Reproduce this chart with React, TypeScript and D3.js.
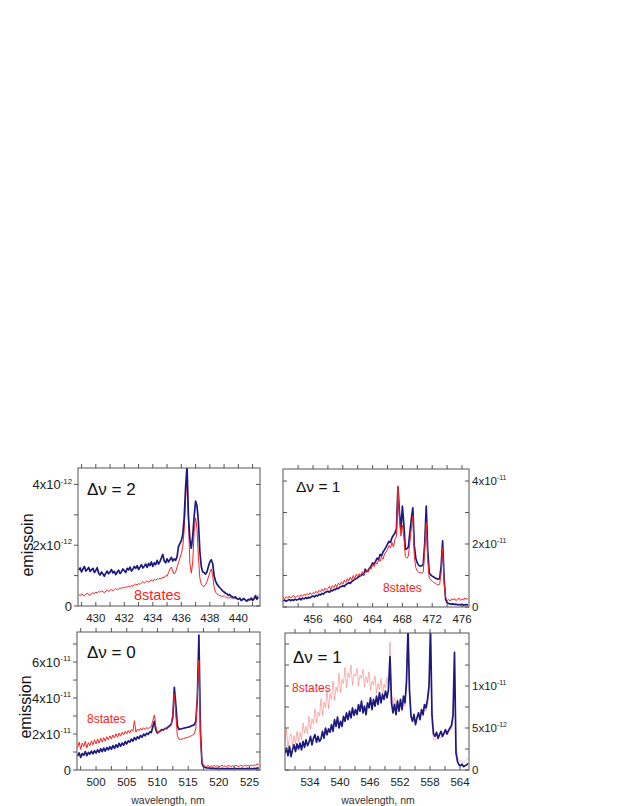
import React from "react";
import * as d3 from "d3";

// Spectra are sampled on a regular wavelength grid: [start nm, step nm].
// Blue = measured emission, red = "8states" model.

// Δν = 2 band, values in 1e-12
const dv2Grid = [428.8, 0.1];
const dv2Measured = [
  1.18, 1.25, 1.12, 1.22, 1.3, 1.15, 1.2, 1.27, 1.14, 1.19,
  1.24, 1.1, 1.17, 1.26, 1.08, 1.02, 1.12, 1.05, 0.98, 1.08,
  1.15, 1.06, 1.12, 1.2, 1.09, 1.14, 1.03, 1.11, 1.18, 1.07,
  1.13, 1.22, 1.16, 1.1, 1.24, 1.19, 1.28, 1.15, 1.21, 1.3,
  1.24, 1.33, 1.2, 1.28, 1.36, 1.25, 1.31, 1.38, 1.27, 1.4,
  1.33, 1.45, 1.3, 1.42, 1.36, 1.5, 1.38, 1.46, 1.58, 1.7,
  1.48, 1.42, 1.55, 1.45, 1.52, 1.6, 1.48, 1.55, 1.5, 1.62,
  1.95, 2.05, 2.15, 2.35, 2.9, 3.9, 4.6, 2.95, 2.2, 1.9,
  2.3, 2.95, 3.45, 3.3, 2.75, 1.8, 1.3, 1.12, 1.1, 1.05,
  1.12, 1.3, 1.45, 1.52, 1.4, 1.0, 0.82, 0.72, 0.66, 0.6,
  0.55, 0.5, 0.46, 0.42, 0.4, 0.35, 0.38, 0.32, 0.3, 0.27,
  0.3, 0.24, 0.22, 0.26, 0.18, 0.22, 0.25, 0.19, 0.16, 0.22,
  0.2, 0.26, 0.18, 0.24, 0.34, 0.22, 0.3,
];
const dv2Model = [
  0.38, 0.34, 0.4, 0.36, 0.33, 0.39, 0.42, 0.37, 0.35, 0.41,
  0.44, 0.4, 0.46, 0.43, 0.48, 0.45, 0.5, 0.47, 0.44, 0.49,
  0.52, 0.48, 0.51, 0.55, 0.5, 0.54, 0.58, 0.53, 0.56, 0.6,
  0.57, 0.62, 0.59, 0.64, 0.61, 0.66, 0.63, 0.68, 0.65, 0.7,
  0.72, 0.69, 0.74, 0.71, 0.76, 0.8, 0.75, 0.79, 0.83, 0.78,
  0.82, 0.86, 0.81, 0.88, 0.84, 0.9, 0.87, 0.92, 0.89, 0.95,
  0.93, 1.0, 0.98, 1.1, 1.22, 1.28, 1.15, 1.05, 1.12, 1.28,
  1.42, 1.58, 1.72, 1.95, 2.5, 3.5, 4.25, 2.8, 1.4, 1.08,
  1.45, 2.45, 2.9, 2.55, 1.6, 0.92, 0.72, 0.66, 0.64, 0.7,
  0.8, 0.95, 1.1, 1.22, 1.0, 0.62, 0.46, 0.4, 0.36, 0.34,
  0.33, 0.31, 0.34, 0.3, 0.28, 0.26, 0.29, 0.27, 0.25, 0.28,
  0.24, 0.26, 0.22, 0.25, 0.21, 0.19, 0.22, 0.2, 0.18, 0.21,
  0.19, 0.22, 0.24, 0.21, 0.26, 0.3, 0.36,
];
const dv2TicksNm = [430, 432, 434, 436, 438, 440];
const dv2TicksY = [0, 2, 4];
const dv2TickLabelsY = ["0", "2x10^-12", "4x10^-12"];

// Δν = 1 band (blue-green), values in 1e-11
const dv1aGrid = [452.0, 0.2];
const dv1aMeasured = [
  0.19, 0.22, 0.18, 0.21, 0.24, 0.2, 0.23, 0.21, 0.25, 0.22,
  0.24, 0.27, 0.23, 0.28, 0.26, 0.3, 0.27, 0.31, 0.29, 0.33,
  0.35, 0.32, 0.37, 0.35, 0.4, 0.38, 0.43, 0.41, 0.46, 0.48,
  0.5, 0.47, 0.53, 0.51, 0.56, 0.55, 0.6, 0.58, 0.63, 0.65,
  0.67, 0.65, 0.71, 0.74, 0.77, 0.75, 0.81, 0.84, 0.88, 0.9,
  0.93, 0.97, 1.0, 1.04, 1.02, 1.2, 1.12, 1.16, 1.24, 1.3,
  1.4, 1.36, 1.45, 1.55, 1.5, 1.67, 1.62, 1.75, 1.82, 1.9,
  2.0, 2.08, 2.05, 2.2, 2.28, 2.35, 2.48, 3.8, 3.0, 2.45,
  3.2, 2.6, 1.83, 1.85, 1.9, 2.36, 2.8, 3.15, 1.94, 1.55,
  1.4, 1.32, 1.3, 1.31, 1.35, 2.04, 3.2, 1.8, 1.09, 1.02,
  0.98, 0.95, 0.92, 0.9, 0.88, 0.9, 1.3, 2.1, 0.9, 0.24,
  0.14, 0.11, 0.1, 0.09, 0.1, 0.08, 0.09, 0.07, 0.08, 0.07,
  0.08, 0.06, 0.07, 0.08, 0.06,
];
const dv1aModel = [
  0.3, 0.26, 0.33, 0.28, 0.35, 0.29, 0.32, 0.37, 0.3, 0.34,
  0.36, 0.31, 0.39, 0.34, 0.41, 0.37, 0.43, 0.38, 0.45, 0.4,
  0.46, 0.42, 0.5, 0.44, 0.53, 0.48, 0.57, 0.5, 0.6, 0.54,
  0.58, 0.66, 0.56, 0.68, 0.62, 0.72, 0.64, 0.76, 0.7, 0.8,
  0.72, 0.85, 0.78, 0.9, 0.82, 0.95, 0.86, 1.0, 0.9, 1.04,
  0.96, 1.06, 0.98, 1.12, 1.02, 1.09, 1.18, 1.1, 1.25, 1.2,
  1.35, 1.28, 1.42, 1.36, 1.5, 1.45, 1.58, 1.52, 1.68, 1.75,
  1.83, 1.95, 1.88, 2.05, 1.9, 2.15, 2.25, 3.85, 2.8, 2.25,
  2.6, 2.2, 1.6, 1.55, 1.62, 2.05, 2.5, 2.9, 1.6, 1.25,
  1.14, 1.1, 1.09, 1.08, 1.12, 1.83, 2.68, 1.5, 0.93, 0.86,
  0.82, 0.78, 0.75, 0.72, 0.7, 0.72, 1.1, 1.88, 0.75, 0.3,
  0.2, 0.24, 0.19, 0.26, 0.22, 0.27, 0.2, 0.25, 0.28, 0.21,
  0.26, 0.22, 0.29, 0.24, 0.27,
];
const dv1aTicksNm = [456, 460, 464, 468, 472, 476];
const dv1aTicksY = [0, 2, 4];
const dv1aTickLabelsY = ["0", "2x10^-11", "4x10^-11"];

// Δν = 0 band, values in 1e-11
const dv0Grid = [497.0, 0.25];
const dv0Measured = [
  0.78, 0.95, 0.7, 0.92, 0.82, 1.02, 0.8, 0.98, 0.88, 1.05,
  0.9, 1.08, 0.94, 1.12, 0.98, 1.18, 1.02, 1.22, 1.05, 1.25,
  1.12, 1.3, 1.15, 1.36, 1.2, 1.4, 1.26, 1.48, 1.32, 1.5,
  1.38, 1.58, 1.45, 1.62, 1.55, 1.72, 1.6, 1.8, 1.68, 1.85,
  1.75, 1.92, 1.82, 2.0, 1.9, 2.05, 1.98, 2.12, 2.08, 2.4,
  2.7, 2.2, 2.05, 2.12, 2.18, 2.25, 2.22, 2.32, 2.3, 2.4,
  2.45, 2.55, 2.9, 4.6, 3.6, 2.45, 2.25, 2.28, 2.3, 2.32,
  2.34, 2.36, 2.38, 2.4, 2.45, 2.48, 2.52, 2.7, 4.0, 7.5,
  2.2, 0.36, 0.18, 0.14, 0.12, 0.11, 0.1, 0.09, 0.1, 0.09,
  0.08, 0.09, 0.08, 0.07, 0.09, 0.08, 0.07, 0.08, 0.09, 0.07,
  0.08, 0.07, 0.09, 0.08, 0.07, 0.08, 0.07, 0.09, 0.08, 0.07,
  0.08, 0.09, 0.07, 0.08, 0.07, 0.09, 0.08, 0.1, 0.12,
];
const dv0Model = [
  1.25, 1.55, 1.15, 1.5, 1.3, 1.6, 1.22, 1.52, 1.35, 1.62,
  1.4, 1.68, 1.45, 1.72, 1.5, 1.78, 1.55, 1.8, 1.6, 1.85,
  1.68, 1.9, 1.72, 1.95, 1.78, 2.02, 1.82, 2.05, 1.88, 2.1,
  1.95, 2.15, 2.0, 2.2, 2.05, 2.25, 2.15, 2.74, 2.1, 2.28,
  2.18, 2.32, 2.22, 2.35, 2.25, 2.36, 2.3, 2.38, 2.4, 2.75,
  3.06, 2.4, 2.07, 2.12, 2.15, 2.2, 2.22, 2.28, 2.3, 2.35,
  2.4, 2.5, 3.2, 4.23, 3.0, 1.9, 1.72, 1.7, 1.72, 1.75,
  1.78, 1.8, 1.82, 1.86, 1.9, 1.95, 2.0, 2.3, 4.2, 6.1,
  1.8, 0.45, 0.27, 0.22, 0.2, 0.24, 0.19, 0.23, 0.21, 0.25,
  0.2, 0.24, 0.19, 0.22, 0.26, 0.21, 0.23, 0.19, 0.25, 0.22,
  0.2, 0.24, 0.21, 0.26, 0.22, 0.19, 0.25, 0.23, 0.21, 0.26,
  0.22, 0.25, 0.21, 0.27, 0.24, 0.28, 0.26, 0.34, 0.3,
];
const dv0TicksNm = [500, 505, 510, 515, 520, 525];
const dv0TicksY = [0, 2, 4, 6];
const dv0TickLabelsY = ["0", "2x10^-11", "4x10^-11", "6x10^-11"];

// Δν = 1 band (green-yellow), values in 1e-12
const dv1bGrid = [529.0, 0.3];
const dv1bMeasured = [
  2.0, 2.6, 1.7, 2.8, 1.6, 2.4, 3.0, 2.2, 3.1, 2.5,
  3.2, 2.4, 3.4, 2.7, 3.6, 2.9, 3.3, 4.0, 3.0, 3.8,
  4.2, 3.3, 4.0, 3.4, 3.7, 4.6, 3.8, 5.0, 4.2, 4.9,
  4.5, 5.4, 4.6, 6.0, 5.2, 6.3, 5.0, 5.8, 5.2, 6.4,
  5.8, 6.8, 6.0, 7.0, 6.2, 7.4, 6.5, 7.2, 6.6, 7.8,
  7.0, 8.2, 6.8, 7.6, 6.6, 8.0, 7.4, 8.6, 7.2, 8.4,
  7.6, 8.8, 7.8, 9.2, 8.0, 9.0, 8.4, 9.4, 8.6, 9.6,
  13.5, 8.0, 6.8, 7.8, 6.6, 8.2, 7.0, 8.4, 7.2, 8.8,
  8.0, 10.5, 16.8, 9.5, 6.4, 5.8, 6.6, 5.4, 6.2, 6.8,
  6.0, 7.2, 6.6, 7.8, 7.4, 8.4, 10.0, 16.8, 6.5, 4.3,
  4.0, 4.5, 3.8, 4.2, 4.6, 4.0, 4.4, 4.8, 4.3, 4.7,
  5.0, 5.3, 6.5, 14.0, 2.0, 1.0, 0.6, 0.5, 0.7, 0.4,
  0.5, 0.6, 0.8,
];
const dv1bModel = [
  3.4, 4.9, 2.7, 3.9, 4.3, 2.9, 4.1, 3.1, 4.6, 3.3,
  4.5, 3.6, 5.6, 4.4, 5.2, 4.3, 6.4, 4.9, 6.1, 5.5,
  7.3, 5.6, 6.9, 6.4, 8.5, 6.5, 8.1, 7.4, 9.5, 7.3,
  9.1, 8.4, 10.6, 8.3, 9.9, 9.3, 11.5, 9.2, 10.8, 10.3,
  12.2, 9.8, 11.6, 11.0, 12.5, 10.1, 11.4, 11.2, 12.1, 10.0,
  11.3, 10.9, 12.0, 9.9, 11.1, 10.4, 11.7, 9.5, 10.6, 10.1,
  11.2, 9.1, 10.3, 9.6, 10.9, 8.8, 10.2, 9.7, 11.0, 9.5,
  15.2, 9.0, 7.8, 8.6, 7.4, 8.4, 7.2, 8.2, 7.0, 8.0,
  7.6, 11.0, 16.5, 9.0, 6.6, 6.0, 6.8, 5.8, 6.4, 6.9,
  6.2, 7.0, 6.4, 7.4, 7.0, 7.8, 9.0, 16.0, 5.5, 3.6,
  3.5, 3.8, 3.6, 4.0, 3.8, 4.1, 4.2, 4.4, 4.2, 4.5,
  4.6, 4.8, 6.0, 12.7, 3.0, 1.6, 1.2, 1.0, 1.1, 0.9,
  1.0, 1.2, 1.4,
];
const dv1bTicksNm = [534, 540, 546, 552, 558, 564];
const dv1bTicksY = [0, 5, 10];
const dv1bTickLabelsY = ["0", "5x10^-12", "1x10^-11"];

const FONT = "'Liberation Sans', Arial, Helvetica, sans-serif";
const BLUE = "#1c1a7e";
const RED = "#ff2222";
const AXIS = "#555";

type Series = { values: number[]; color: string; width: number; opacity?: number };
type PanelCfg = {
  id: string;
  left: number; right: number; top: number; bottom: number;
  xDomain: [number, number];
  yMax: number;
  grid: number[];
  series: Series[];
  xTicks: number[];
  xMinorStart: number; xMinorStep: number;
  yTicks: number[]; yLabels: string[]; yMinorStep: number;
  ySide: "left" | "right";
  title: string; titleSize: number; titleDx: number; titleDy: number;
  tag: string; tagSize: number; tagDx: number; tagDy: number;
};

const SupLabel = ({ x, y, text, anchor, size }: { x: number; y: number; text: string; anchor: string; size: number }) => {
  const [base, exp] = text.split("^");
  return (
    <text x={x} y={y + size * 0.36} textAnchor={anchor} fontSize={size} fill="#222" fontFamily={FONT}>
      {base}
      {exp && (
        <tspan dy={-size * 0.42} fontSize={size * 0.6}>
          {exp}
        </tspan>
      )}
    </text>
  );
};

const Panel = ({ p }: { p: PanelCfg }) => {
  const x = d3.scaleLinear().domain(p.xDomain).range([p.left, p.right]);
  const y = d3.scaleLinear().domain([0, p.yMax]).range([p.bottom, p.top]);
  const line = d3
    .line<number>()
    .x((_, i) => x(p.grid[0] + i * p.grid[1]))
    .y((d) => y(d));
  const clipId = "clip-" + p.id;
  const tl = 4;
  const xMinor = d3.range(p.xMinorStart, p.xDomain[1], p.xMinorStep);
  const yMinor = d3.range(0, p.yMax, p.yMinorStep);

  return (
    <g>
      <defs>
        <clipPath id={clipId}>
          <rect x={p.left} y={p.top} width={p.right - p.left} height={p.bottom - p.top} />
        </clipPath>
      </defs>
      <g clipPath={`url(#${clipId})`}>
        {p.series.map((s, i) => (
          <path
            key={i}
            d={line(s.values) || ""}
            fill="none"
            stroke={s.color}
            strokeWidth={s.width}
            strokeOpacity={s.opacity ?? 1}
            strokeLinejoin="round"
          />
        ))}
      </g>
      <rect
        x={p.left}
        y={p.top}
        width={p.right - p.left}
        height={p.bottom - p.top}
        fill="none"
        stroke={AXIS}
        strokeWidth={1}
      />
      {/* x ticks: bottom inward, top outward */}
      {xMinor.map((v) => (
        <g key={"x" + v}>
          <line x1={x(v)} x2={x(v)} y1={p.bottom} y2={p.bottom - tl} stroke={AXIS} />
          <line x1={x(v)} x2={x(v)} y1={p.top} y2={p.top - tl} stroke={AXIS} />
        </g>
      ))}
      {p.xTicks.map((v) => (
        <text
          key={"xl" + v}
          x={x(v)}
          y={p.bottom + 16}
          textAnchor="middle"
          fontSize={11.5}
          fill="#222"
          fontFamily={FONT}
        >
          {v}
        </text>
      ))}
      {/* y ticks */}
      {yMinor.map((v) => (
        <g key={"y" + v}>
          {p.ySide === "left" ? (
            <line x1={p.left - tl} x2={p.left} y1={y(v)} y2={y(v)} stroke={AXIS} />
          ) : (
            <line x1={p.left} x2={p.left + tl} y1={y(v)} y2={y(v)} stroke={AXIS} />
          )}
          <line x1={p.right - tl} x2={p.right} y1={y(v)} y2={y(v)} stroke={AXIS} />
        </g>
      ))}
      {p.yTicks.map((v, i) =>
        p.ySide === "left" ? (
          <SupLabel key={"yl" + v} x={p.left - 6} y={y(v)} text={p.yLabels[i]} anchor="end" size={13} />
        ) : (
          <SupLabel key={"yl" + v} x={p.right + 3} y={y(v)} text={p.yLabels[i]} anchor="start" size={11.5} />
        )
      )}
      <text
        x={p.left + p.titleDx}
        y={p.top + p.titleDy}
        fontSize={p.titleSize}
        fill="#111"
        fontFamily={FONT}
      >
        {p.title}
      </text>
      <text x={p.left + p.tagDx} y={p.top + p.tagDy} fontSize={p.tagSize} fill={RED} fontFamily={FONT}>
        {p.tag}
      </text>
    </g>
  );
};

const panels: PanelCfg[] = [
  {
    id: "dv2", left: 78, right: 260, top: 468, bottom: 606,
    xDomain: [428.75, 441.52], yMax: 4.54, grid: dv2Grid,
    series: [
      { values: dv2Model, color: RED, width: 1 },
      { values: dv2Measured, color: BLUE, width: 1.7 },
    ],
    xTicks: dv2TicksNm, xMinorStart: 429, xMinorStep: 1,
    yTicks: dv2TicksY, yLabels: dv2TickLabelsY, yMinorStep: 1, ySide: "left",
    title: "Δν = 2", titleSize: 17, titleDx: 9, titleDy: 27,
    tag: "8states", tagSize: 14.5, tagDx: 56, tagDy: 132,
  },
  {
    id: "dv1a", left: 283, right: 469, top: 469, bottom: 607,
    xDomain: [451.97, 476.94], yMax: 4.381, grid: dv1aGrid,
    series: [
      { values: dv1aMeasured, color: BLUE, width: 1.7 },
      { values: dv1aModel, color: RED, width: 1 },
    ],
    xTicks: dv1aTicksNm, xMinorStart: 454, xMinorStep: 2,
    yTicks: dv1aTicksY, yLabels: dv1aTickLabelsY, yMinorStep: 1, ySide: "right",
    title: "Δν = 1", titleSize: 15.5, titleDx: 13, titleDy: 23,
    tag: "8states", tagSize: 12, tagDx: 100, tagDy: 123,
  },
  {
    id: "dv0", left: 77, right: 260, top: 632, bottom: 770,
    xDomain: [496.9, 526.7], yMax: 7.67, grid: dv0Grid,
    series: [
      { values: dv0Measured, color: BLUE, width: 1.7 },
      { values: dv0Model, color: RED, width: 1 },
    ],
    xTicks: dv0TicksNm, xMinorStart: 497.5, xMinorStep: 2.5,
    yTicks: dv0TicksY, yLabels: dv0TickLabelsY, yMinorStep: 1, ySide: "left",
    title: "Δν = 0", titleSize: 17, titleDx: 10, titleDy: 26,
    tag: "8states", tagSize: 12, tagDx: 10, tagDy: 91,
  },
  {
    id: "dv1b", left: 285, right: 469, top: 633, bottom: 770,
    xDomain: [529, 565.8], yMax: 16.31, grid: dv1bGrid,
    series: [
      { values: dv1bModel, color: "#ff5555", width: 1, opacity: 0.45 },
      { values: dv1bMeasured, color: BLUE, width: 1.7 },
    ],
    xTicks: dv1bTicksNm, xMinorStart: 531, xMinorStep: 3,
    yTicks: dv1bTicksY, yLabels: dv1bTickLabelsY, yMinorStep: 2.5, ySide: "right",
    title: "Δν = 1", titleSize: 17, titleDx: 8, titleDy: 30,
    tag: "8states", tagSize: 12, tagDx: 7, tagDy: 59,
  },
];

export default function App() {
  return (
    <svg
      width={623}
      height={806}
      style={{ position: "absolute", left: 0, top: 0, background: "#fff" }}
    >
      {panels.map((p) => (
        <Panel key={p.id} p={p} />
      ))}
      <text
        transform="translate(33,545) rotate(-90)"
        textAnchor="middle"
        fontSize={16}
        fill="#111"
        fontFamily={FONT}
      >
        emissoin
      </text>
      <text
        transform="translate(31,707) rotate(-90)"
        textAnchor="middle"
        fontSize={16}
        fill="#111"
        fontFamily={FONT}
      >
        emission
      </text>
      <text x={168} y={804} textAnchor="middle" fontSize={10.5} fill="#333" fontFamily={FONT}>
        wavelength, nm
      </text>
      <text x={378} y={804} textAnchor="middle" fontSize={10.5} fill="#333" fontFamily={FONT}>
        wavelength, nm
      </text>
    </svg>
  );
}
